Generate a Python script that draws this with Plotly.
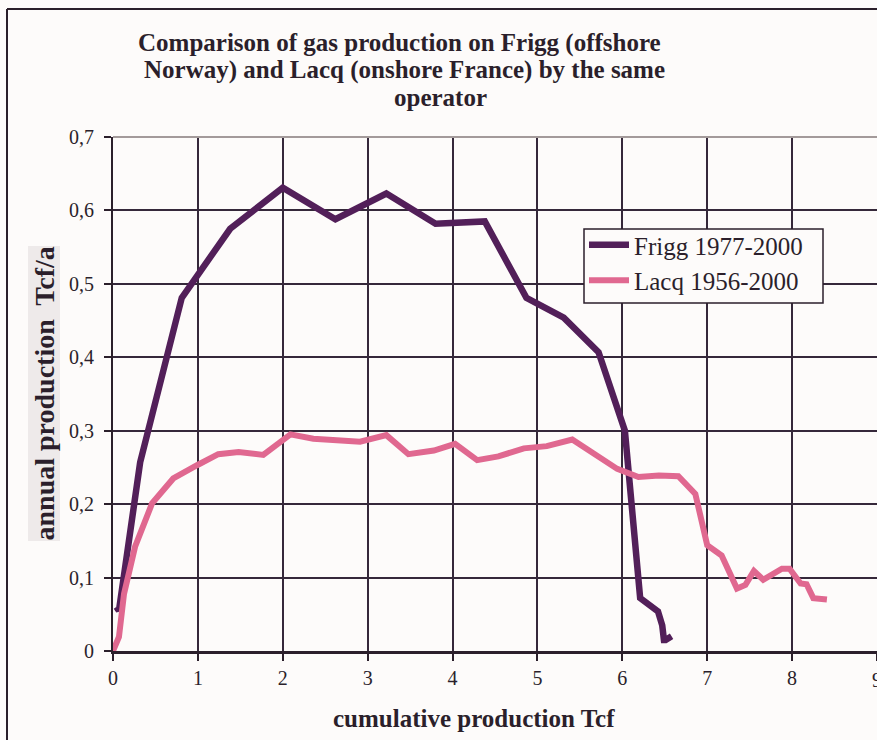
import plotly.graph_objects as go

# Frigg (offshore Norway), 1977-2000: cumulative vs annual production
frigg_cum = [0.04, 0.07, 0.32, 0.81, 1.38, 2.00, 2.62, 3.22, 3.80, 4.38,
             4.87, 5.31, 5.72, 6.03, 6.21, 6.42, 6.47, 6.49, 6.51, 6.58]
frigg_rate = [0.060, 0.055, 0.257, 0.481, 0.575, 0.631, 0.588, 0.623, 0.582, 0.585,
              0.481, 0.454, 0.407, 0.300, 0.072, 0.054, 0.035, 0.015, 0.015, 0.020]

# Lacq (onshore France), 1956-2000
lacq_cum = [0.00, 0.07, 0.13, 0.26, 0.46, 0.71, 0.99, 1.24, 1.48, 1.77,
            2.09, 2.36, 2.91, 3.22, 3.48, 3.78, 4.03, 4.29, 4.54, 4.84,
            5.11, 5.41, 5.94, 6.19, 6.43, 6.66, 6.86, 7.00, 7.17, 7.35,
            7.45, 7.55, 7.66, 7.88, 7.97, 8.10, 8.17, 8.25, 8.41]
lacq_rate = [0.000, 0.019, 0.078, 0.142, 0.201, 0.235, 0.253, 0.268, 0.271, 0.267,
             0.295, 0.289, 0.285, 0.294, 0.268, 0.273, 0.282, 0.260, 0.265, 0.276,
             0.279, 0.288, 0.248, 0.237, 0.239, 0.238, 0.214, 0.144, 0.130, 0.085,
             0.090, 0.109, 0.097, 0.112, 0.112, 0.092, 0.091, 0.072, 0.070]

x_ticks = [0, 1, 2, 3, 4, 5, 6, 7, 8, 9]
y_ticks = [0, 0.1, 0.2, 0.3, 0.4, 0.5, 0.6, 0.7]

title_lines = ["Comparison of gas production on Frigg (offshore",
               "Norway) and Lacq (onshore France) by the same",
               "operator"]

W, H = 877, 740
ML, MR, MT, MB = 113, 0, 137, 89
PW, PH = W - ML - MR, H - MT - MB

def px(xp):
    return (xp - ML) / PW

def py(yp):
    return (H - MB - yp) / PH

INK = "#2b1f2b"
GRID = "#35283a"
BG = "#fdfbfa"
SERIF = "Liberation Serif, Times New Roman, serif"

fig = go.Figure()
fig.add_trace(go.Scatter(x=frigg_cum, y=frigg_rate, mode="lines",
                         name="Frigg 1977-2000",
                         line=dict(color="#521f59", width=6.5)))
fig.add_trace(go.Scatter(x=lacq_cum, y=lacq_rate, mode="lines",
                         name="Lacq 1956-2000",
                         line=dict(color="#e06890", width=6)))

fig.update_layout(
    width=W, height=H,
    margin=dict(l=ML, r=MR, t=MT, b=MB),
    paper_bgcolor=BG, plot_bgcolor=BG,
    separators=", ",
    font=dict(family=SERIF, color=INK, size=20),
    showlegend=True,
    legend=dict(x=px(584), y=py(222), xanchor="left", yanchor="top",
                bgcolor="rgba(0,0,0,0)", borderwidth=0,
                font=dict(size=25, family=SERIF, color=INK),
                tracegroupgap=0, itemwidth=40),
    xaxis=dict(range=[0, 9], tickvals=x_ticks, showgrid=True,
               gridcolor=GRID, gridwidth=2, zeroline=False,
               showline=True, linecolor=INK, linewidth=2.5,
               ticks="outside", ticklen=7, tickwidth=2, tickcolor=INK,
               tickfont=dict(size=20, family=SERIF, color=INK)),
    yaxis=dict(range=[0, 0.7], tickvals=y_ticks, showgrid=True,
               gridcolor=GRID, gridwidth=2, zeroline=False,
               showline=True, linecolor=INK, linewidth=2,
               ticks="outside", ticklen=7, tickwidth=2, tickcolor=INK,
               ticklabelstandoff=6,
               tickfont=dict(size=20, family=SERIF, color=INK)),
)

# grey upper edge of the plotting area
fig.add_shape(type="line", xref="paper", yref="paper", x0=0, x1=1, y0=1, y1=1,
              line=dict(color="#a39a9a", width=2))
# outer chart frame: left and top edges
fig.add_shape(type="line", xref="paper", yref="paper",
              x0=px(7), x1=px(7), y0=py(H + 20), y1=py(9),
              line=dict(color=INK, width=2))
fig.add_shape(type="line", xref="paper", yref="paper",
              x0=px(7), x1=px(W + 20), y0=py(9), y1=py(9),
              line=dict(color=INK, width=2))
# legend box
fig.add_shape(type="rect", xref="paper", yref="paper",
              x0=px(584), x1=px(823), y0=py(303), y1=py(229),
              fillcolor=BG, line=dict(color=INK, width=1.5), layer="above")

# last x tick label sits on the right edge
fig.add_annotation(text="9", xref="x", yref="paper", x=9, y=py(680),
                   xanchor="center", yanchor="middle", showarrow=False,
                   font=dict(size=20, family=SERIF, color=INK))

# chart title, one annotation per line
title_pos = [(137, 42.5), (143, 69.5), (393, 97.5)]
for text, (xl, yc) in zip(title_lines, title_pos):
    fig.add_annotation(text="<b>" + text + "</b>", xref="paper", yref="paper",
                       x=px(xl), y=py(yc), xanchor="left", yanchor="middle",
                       showarrow=False, borderpad=0,
                       font=dict(size=25, family=SERIF, color=INK))

# axis titles
fig.add_annotation(text="<b>cumulative production Tcf</b>", xref="paper", yref="paper",
                   x=px(474), y=py(718), xanchor="center", yanchor="middle",
                   showarrow=False, borderpad=0,
                   font=dict(size=25, family=SERIF, color=INK))
fig.add_annotation(text="<b>annual production  Tcf/a</b>", xref="paper", yref="paper",
                   x=px(44), y=py(393.5), xanchor="center", yanchor="middle",
                   textangle=-90, showarrow=False, borderpad=0,
                   bgcolor="#eeeaea",
                   font=dict(size=28, family=SERIF, color=INK))

fig.write_html("out.html")
